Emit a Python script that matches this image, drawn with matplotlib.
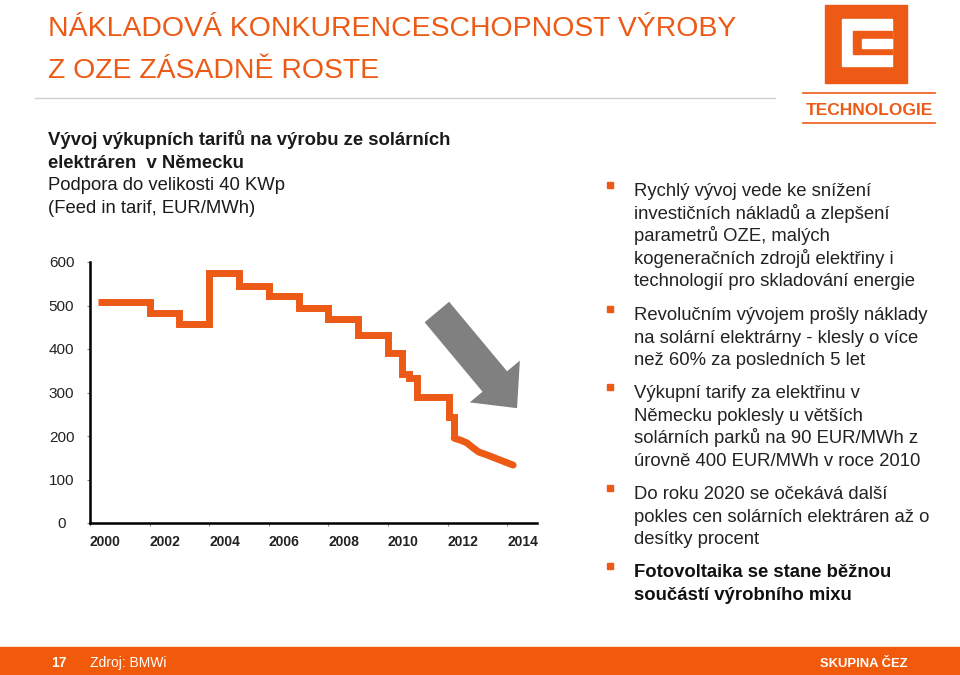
import matplotlib.pyplot as plt
from matplotlib.patches import Rectangle

# feed-in tariff for small PV in Germany (EUR/MWh), step changes
step_years = [2000.27, 2002, 2003, 2004, 2005, 2006, 2007, 2008, 2009, 2010, 2010.47, 2010.72, 2010.97, 2012.05, 2012.22]
step_values = [507, 483, 457, 575, 545, 522, 494, 469, 432, 391, 343, 333, 290, 244, 195]
# monthly degression after April 2012
decline_years = [2012.22, 2012.45, 2012.65, 2012.85, 2013.05, 2013.3, 2013.6, 2013.9, 2014.2]
decline_values = [195, 190, 184, 173, 163, 157, 149, 141, 133]

x_ticks = [2000, 2002, 2004, 2006, 2008, 2010, 2012, 2014]
y_ticks = [0, 100, 200, 300, 400, 500, 600]

title_lines = ["NÁKLADOVÁ KONKURENCESCHOPNOST VÝROBY", "Z OZE ZÁSADNĚ ROSTE"]
left_lines = [("Vývoj výkupních tarifů na výrobu ze solárních", "bold"),
              ("elektráren  v Německu", "bold"),
              ("Podpora do velikosti 40 KWp", "normal"),
              ("(Feed in tarif, EUR/MWh)", "normal")]
bullets = [
    (["Rychlý vývoj vede ke snížení", "investičních nákladů a zlepšení", "parametrů OZE, malých",
      "kogeneračních zdrojů elektřiny i", "technologií pro skladování energie"], "normal"),
    (["Revolučním vývojem prošly náklady", "na solární elektrárny - klesly o více",
      "než 60% za posledních 5 let"], "normal"),
    (["Výkupní tarify za elektřinu v", "Německu poklesly u větších",
      "solárních parků na 90 EUR/MWh z", "úrovně 400 EUR/MWh v roce 2010"], "normal"),
    (["Do roku 2020 se očekává další", "pokles cen solárních elektráren až o", "desítky procent"], "normal"),
    (["Fotovoltaika se stane běžnou", "součástí výrobního mixu"], "bold"),
]
bullet_baselines = [196, 320, 398, 499, 577]

ORANGE = "#EC5A16"
W, H = 960, 675
plt.rcParams['font.family'] = ['Liberation Sans', 'DejaVu Sans']

fig = plt.figure(figsize=(9.6, 6.75), dpi=100)
bg = fig.add_axes([0, 0, 1, 1])
bg.set_xlim(0, W)
bg.set_ylim(H, 0)
bg.axis('off')

# title
bg.text(48, 36, title_lines[0], fontsize=20.4, color=ORANGE, va='baseline')
bg.text(48, 78, title_lines[1], fontsize=20.4, color=ORANGE, va='baseline')
bg.plot([35, 775], [98, 98], color="#d0d0d0", lw=1)

# logo
bg.add_patch(Rectangle((825, 5), 82, 78, color=ORANGE))
bg.add_patch(Rectangle((842, 18.5), 50, 47, color="white"))
bg.add_patch(Rectangle((853, 30.5), 39, 23, color=ORANGE))
bg.add_patch(Rectangle((862, 39.3), 30, 8.4, color="white"))
bg.plot([803, 935], [93, 93], color=ORANGE, lw=1.2)
bg.plot([803, 935], [123, 123], color=ORANGE, lw=1.2)
bg.text(869, 115, "TECHNOLOGIE", fontsize=12.5, fontweight='bold', color=ORANGE,
        ha='center', va='baseline')

# left description
for i, (line, weight) in enumerate(left_lines):
    bg.text(48, 145 + i * 22.7, line, fontsize=13.3, fontweight=weight, color="#1a1a1a", va='baseline')

# bullets
for (lines, weight), base in zip(bullets, bullet_baselines):
    bg.add_patch(Rectangle((607, base - 14), 6, 6, color=ORANGE))
    for j, line in enumerate(lines):
        bg.text(634, base + j * 22.6, line, fontsize=13.3, fontweight=weight,
                color="#222222" if weight == 'normal' else "#111111", va='baseline')

# footer
bg.add_patch(Rectangle((0, 647), W, 28, color="#F05A0A"))
bg.text(59, 667, "17", fontsize=10, fontweight='bold', color="white", ha='center', va='baseline')
bg.text(90, 667, "Zdroj: BMWi", fontsize=10, color="white", va='baseline')
bg.text(907, 667, "SKUPINA ČEZ", fontsize=9.4, fontweight='bold', color="white", ha='right', va='baseline')

# chart
ax = fig.add_axes([90 / W, (H - 523) / H, 447 / W, 261 / H])
ax.plot(step_years, step_values, drawstyle='steps-post', color=ORANGE, lw=5,
        solid_joinstyle='miter', solid_capstyle='butt')
ax.plot(decline_years, decline_values, color=ORANGE, lw=5, solid_capstyle='round')
ax.set_xlim(2000, 2015)
ax.set_ylim(0, 600)
ax.set_xticks(x_ticks)
ax.set_xticklabels([str(t) for t in x_ticks], fontsize=10, fontweight='bold', color="#222222", ha='left')
ax.set_yticks(y_ticks)
ax.set_yticklabels([str(t) for t in y_ticks], fontsize=11, color="#222222", ha='center')
ax.tick_params(axis='x', length=2.5, width=0.8, color="#888888", pad=6)
ax.tick_params(axis='y', length=2.5, width=0.8, color="#888888", pad=18)
for s in ['top', 'right']:
    ax.spines[s].set_visible(False)
for s in ['left', 'bottom']:
    ax.spines[s].set_linewidth(1.8)
    ax.spines[s].set_color("black")

# downward trend arrow
ax.annotate('', xy=(2014.33, 264), xytext=(2011.64, 485),
            arrowprops=dict(width=23, headwidth=47, headlength=25, shrink=0,
                            color="#808080", lw=0),
            annotation_clip=False)

fig.savefig("out.png", dpi=100)
